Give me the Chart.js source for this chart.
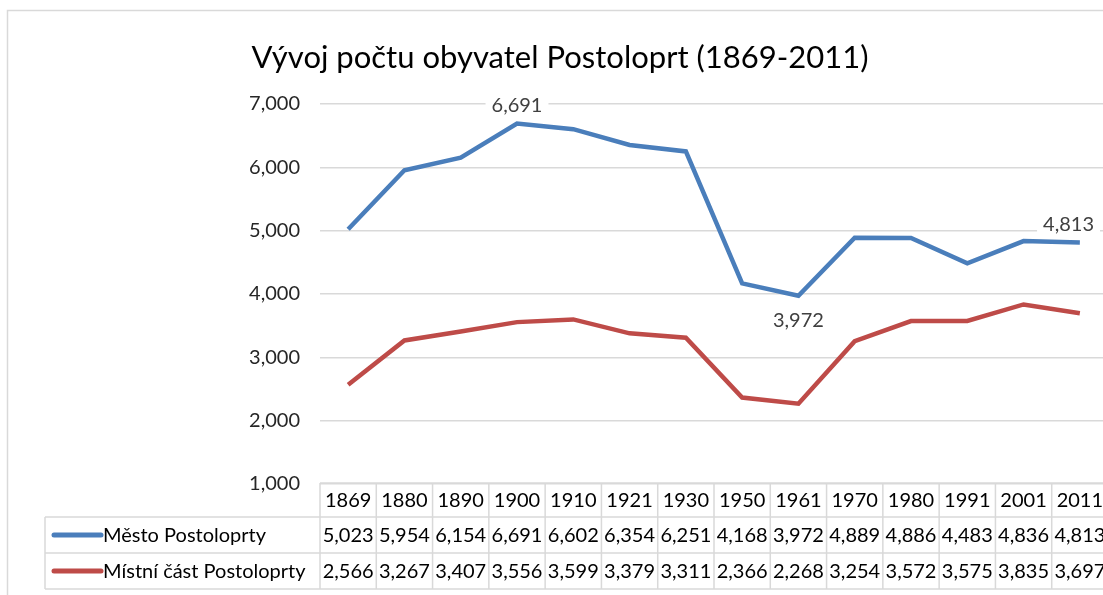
<!DOCTYPE html>
<html lang="cs">
<head>
  <meta charset="UTF-8">
  <title>Vývoj počtu obyvatel Postoloprt</title>
  <script src="https://cdn.jsdelivr.net/npm/chart.js"></script>
  <style>
    body { margin: 0; overflow: hidden; background: #fff; }
    #wrap { width: 1120px; height: 595px; }
  </style>
</head>
<body>
<div id="wrap"><canvas id="popChart" width="1120" height="595"></canvas></div>

<script>
// data
const years = ['1869', '1880', '1890', '1900', '1910', '1921', '1930', '1950', '1961', '1970', '1980', '1991', '2001', '2011'];
const mestoValues = [5023, 5954, 6154, 6691, 6602, 6354, 6251, 4168, 3972, 4889, 4886, 4483, 4836, 4813];
const mistniValues = [2566, 3267, 3407, 3556, 3599, 3379, 3311, 2366, 2268, 3254, 3572, 3575, 3835, 3697];
const seriesNames = ['Město Postoloprty', 'Místní část Postoloprty'];
// points of the first series that carry a value label, and where
const labelledPoints = [3, 8, 13];
const labelSides = ['above', 'below', 'above'];

const FONT = 'Lato, "Open Sans", sans-serif';
const GRID = '#d9d9d9';
const fmt = v => v.toLocaleString('en-US');

const tablePlugin = {
  id: 'excelBits',
  beforeDraw(chart) {
    const ctx = chart.ctx;
    ctx.save();
    // outer chart border
    ctx.strokeStyle = GRID;
    ctx.lineWidth = 1.5;
    ctx.strokeRect(7.5, 10.5, 1200, 700);
    // title
    ctx.fillStyle = '#000';
    ctx.font = '31px ' + FONT;
    ctx.textAlign = 'center';
    ctx.textBaseline = 'middle';
    ctx.fillText('Vývoj počtu obyvatel Postoloprt (1869-2011)', 560, 58);
    ctx.restore();
  },
  afterDraw(chart) {
    const ctx = chart.ctx;
    const x = chart.scales.x, y = chart.scales.y;
    const area = chart.chartArea;
    const colW = x.getPixelForValue(1) - x.getPixelForValue(0);
    const top = area.bottom - 1;
    const rowH = [34, 36, 36];
    const r1 = top + rowH[0], r2 = r1 + rowH[1], r3 = r2 + rowH[2];
    const tableLeft = 45;

    ctx.save();
    // data labels with white boxes, kept inside the plot area like Excel does
    ctx.font = '20px ' + FONT;
    ctx.textAlign = 'center';
    ctx.textBaseline = 'middle';
    labelledPoints.forEach((idx, k) => {
      const py = y.getPixelForValue(mestoValues[idx]);
      const ly = labelSides[k] === 'above' ? py - 19 : py + 24;
      const txt = fmt(mestoValues[idx]);
      const w = ctx.measureText(txt).width + 12;
      const px = Math.min(x.getPixelForValue(idx), area.right - 8 - w / 2);
      ctx.fillStyle = '#fff';
      ctx.fillRect(px - w / 2, ly - 12, w, 24);
      ctx.fillStyle = '#404040';
      ctx.fillText(txt, px, ly + 1);
    });

    // table grid
    ctx.strokeStyle = GRID;
    ctx.lineWidth = 1.5;
    ctx.beginPath();
    ctx.moveTo(area.left, top); ctx.lineTo(area.right + 20, top);
    ctx.moveTo(tableLeft, r1); ctx.lineTo(area.right + 20, r1);
    ctx.moveTo(tableLeft, r2); ctx.lineTo(area.right + 20, r2);
    ctx.moveTo(tableLeft, r3); ctx.lineTo(area.right + 20, r3);
    ctx.moveTo(tableLeft, r1); ctx.lineTo(tableLeft, r3);
    for (let i = 0; i <= years.length; i++) {
      const lx = area.left + i * colW;
      ctx.moveTo(lx, top); ctx.lineTo(lx, r3);
    }
    ctx.stroke();

    // table text
    ctx.fillStyle = '#000';
    ctx.font = '20px ' + FONT;
    ctx.textAlign = 'center';
    ctx.textBaseline = 'middle';
    years.forEach((yr, i) => {
      const cx = x.getPixelForValue(i);
      ctx.fillText(yr, cx, (top + r1) / 2 + 1);
      ctx.fillText(fmt(mestoValues[i]), cx, (r1 + r2) / 2 + 1);
      ctx.fillText(fmt(mistniValues[i]), cx, (r2 + r3) / 2 + 1);
    });

    // legend keys and series names
    const rows = [(r1 + r2) / 2, (r2 + r3) / 2];
    chart.data.datasets.forEach((ds, k) => {
      ctx.strokeStyle = ds.borderColor;
      ctx.lineWidth = 5;
      ctx.lineCap = 'round';
      ctx.beginPath();
      ctx.moveTo(54, rows[k]); ctx.lineTo(101, rows[k]);
      ctx.stroke();
      ctx.fillStyle = '#000';
      ctx.textAlign = 'left';
      ctx.fillText(seriesNames[k], 103, rows[k] + 1);
    });
    ctx.restore();
  }
};

new Chart(document.getElementById('popChart'), {
  type: 'line',
  data: {
    labels: years,
    datasets: [
      { label: seriesNames[0], data: mestoValues, borderColor: '#4a7ebb', borderWidth: 4.5, pointRadius: 0, tension: 0 },
      { label: seriesNames[1], data: mistniValues, borderColor: '#be4b48', borderWidth: 4.5, pointRadius: 0, tension: 0 }
    ]
  },
  options: {
    responsive: false,
    animation: false,
    layout: { padding: { top: 104, bottom: 111, left: 0, right: 12 } },
    plugins: { legend: { display: false }, tooltip: { enabled: false }, title: { display: false } },
    scales: {
      x: { display: false, offset: true },
      y: {
        min: 1000, max: 7000,
        afterFit: s => { s.width = 320; },
        border: { display: false },
        grid: { color: GRID, lineWidth: 1.5, drawTicks: false },
        ticks: { stepSize: 1000, padding: 20, color: '#262626', font: { family: FONT, size: 20 }, callback: v => fmt(v) }
      }
    }
  },
  plugins: [tablePlugin]
});
</script>
</body>
</html>
